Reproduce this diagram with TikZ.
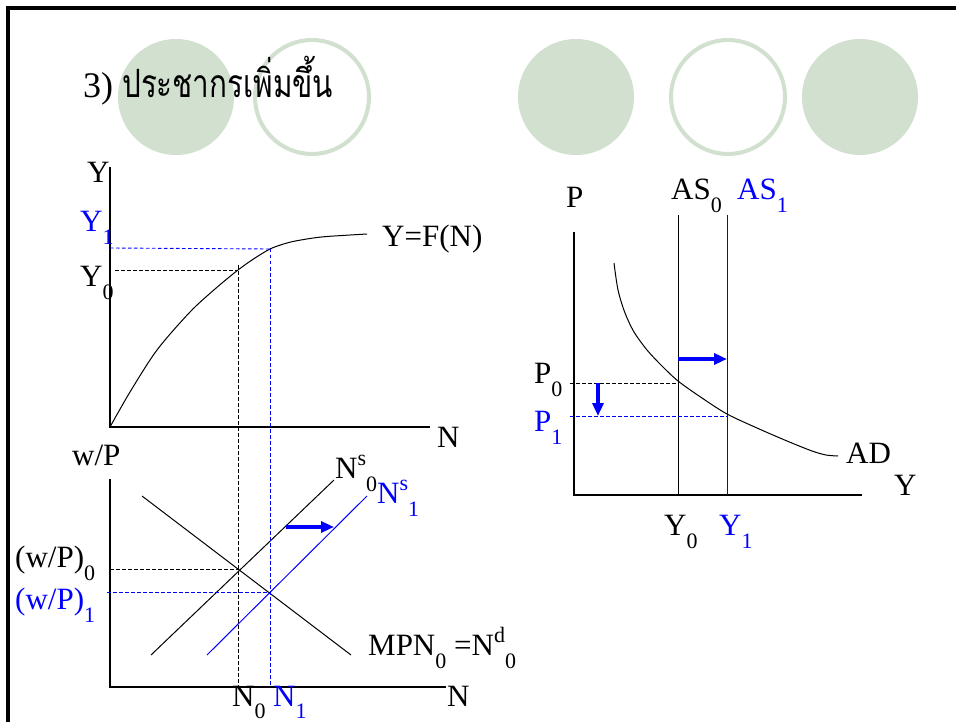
\documentclass[tikz,border=0pt]{standalone}
\usepackage{fontspec}
\setmainfont{Liberation Serif}
\newfontfamily\thaifont[Script=Thai]{Loma}
\usetikzlibrary{arrows.meta}
\definecolor{lgreen}{HTML}{D1E0CF}
\definecolor{pblue}{HTML}{0000FF}
\newcommand{\sbs}[1]{\raisebox{-13pt}{\fontsize{22}{22}\selectfont #1}}
\newcommand{\sps}[1]{\raisebox{13pt}{\fontsize{22}{22}\selectfont #1}}
\begin{document}
\begin{tikzpicture}[x=1pt,y=-1pt,
  lbl/.style={inner sep=0pt, anchor=base west, font=\fontsize{31}{31}\selectfont},
  bl/.style={text=pblue},
  axis/.style={line width=1.3pt},
  curve/.style={line width=1pt},
  dsh/.style={line width=0.9pt, dash pattern=on 3.5pt off 2.5pt},
  shiftarrow/.style={draw=pblue, line width=3.5pt, -{Triangle[length=13pt,width=11pt]}},
  disc/.style={circle, fill=lgreen, minimum size=116pt, inner sep=0pt},
  ringc/.style={circle, draw=lgreen, line width=4pt, minimum size=114pt, inner sep=0pt}]
\useasboundingbox (0,0) rectangle (956,722);
\fill[white] (0,0) rectangle (956,722);
% frame
\coordinate (fbl) at (8,730);
\coordinate (ftl) at (8,8);
\coordinate (ftr) at (962,8);
\draw[line width=3.2pt] (fbl) -- (ftl) -- (ftr);
% decorative circles
\node[disc]  (c1) at (176,97) {};
\node[ringc] (c2) at (312,97) {};
\node[disc]  (c3) at (576,97) {};
\node[ringc] (c4) at (728,97) {};
\node[disc]  (c5) at (860,97) {};
% title
\node[inner sep=0pt, anchor=base west, font=\fontsize{36}{36}\selectfont] (title) at (83,98)
  {3) {\thaifont\fontsize{39}{39}\selectfont\scalebox{0.76}[1]{ประชากรเพิ่มขึ้น}}};

% ---------- top-left: production function ----------
\coordinate (o1) at (110,427);
\coordinate (ytop) at (110,167);
\coordinate (nend1) at (430,427);
\draw[axis] (ytop) -- (o1) -- (nend1);
\draw[curve] plot[smooth] coordinates {(110,427) (130,392) (157,350) (190,312) (215,289) (238,270) (255,258) (270,249) (282,244.5) (293,241.5) (310,238.5) (327,236.5) (367,234)};
\coordinate (e0) at (238,270);
\coordinate (e1) at (270,249);
\coordinate (e0top) at (238,265);
\coordinate (y0ax) at (115,270);
\coordinate (y1ax) at (110,248);
\draw[dsh] (y0ax) -- (e0);
\draw[dsh, pblue] (y1ax) -- (e1);
\node[lbl] (lY) at (87,183) {Y};
\node[lbl, bl] (lY1) at (80,232) {Y\sbs{1}};
\node[lbl] (lY0) at (80,287) {Y\sbs{0}};
\node[lbl] (lYF) at (382,247) {Y=F(N)};
\node[lbl] (lN1) at (437,447) {N};

% ---------- bottom-left: labour market ----------
\coordinate (o2) at (110,687);
\coordinate (wtop) at (110,479);
\coordinate (nend2) at (446,687);
\draw[axis] (wtop) -- (o2) -- (nend2);
\coordinate (nda) at (142,496);
\coordinate (ndb) at (351,655);
\coordinate (ns0a) at (151,655);
\coordinate (ns0b) at (334,480);
\coordinate (ns1a) at (207,655);
\coordinate (ns1b) at (367,496);
\draw[curve] (nda) -- (ndb);
\draw[curve] (ns0a) -- (ns0b);
\draw[curve, pblue] (ns1a) -- (ns1b);
\coordinate (q0) at (238,569);
\coordinate (q1) at (270,592);
\coordinate (w0ax) at (110,569);
\coordinate (w1ax) at (107,592);
\coordinate (n0ax) at (238,687);
\coordinate (n1ax) at (270,687);
\draw[dsh] (w0ax) -- (q0);
\draw[dsh, pblue] (w1ax) -- (q1);
\draw[dsh] (e0top) -- (n0ax);
\draw[dsh, pblue] (e1) -- (n1ax);
\coordinate (sa1) at (286,527);
\coordinate (sa2) at (334,527);
\draw[shiftarrow] (sa1) -- (sa2);
\node[lbl] (lwP) at (72,465) {w/P};
\node[lbl] (lwP0) at (15,567) {(w/P)\sbs{0}};
\node[lbl, bl] (lwP1) at (15,609) {(w/P)\sbs{1}};
\node[lbl] (lNs0) at (335,478) {N\sps{s}\sbs{0}};
\node[lbl, bl] (lNs1) at (377,503) {N\sps{s}\sbs{1}};
\node[lbl] (lMPN) at (368,655) {MPN\sbs{0} =N\sps{d}\sbs{0}};
\node[lbl] (lN0) at (232,706) {N\raisebox{-12pt}{\fontsize{22}{22}\selectfont 0}};
\node[lbl, bl] (lN1b) at (273,706) {N\raisebox{-12pt}{\fontsize{22}{22}\selectfont 1}};
\node[lbl] (lN2) at (447,706) {N};

% ---------- right: AS-AD ----------
\coordinate (o3) at (574,495);
\coordinate (ptop) at (574,232);
\coordinate (yend) at (862,495);
\draw[axis] (ptop) -- (o3) -- (yend);
\coordinate (as0t) at (678,215);
\coordinate (as0b) at (678,495);
\coordinate (as1t) at (727,215);
\coordinate (as1b) at (727,495);
\draw[curve] (as0t) -- (as0b);
\draw[curve, pblue] (as1t) -- (as1b);
\draw[curve] plot[smooth] coordinates {(614,263) (618,290) (625,313) (634,332) (647,350) (661,365) (678,381) (702,398) (727,414) (757,428) (787,441) (812,451) (826,455) (838,456)};
\coordinate (r0) at (678,383);
\coordinate (r1) at (727,416);
\coordinate (p0ax) at (570,383);
\coordinate (p1ax) at (570,416);
\draw[dsh] (p0ax) -- (r0);
\draw[dsh, pblue] (p1ax) -- (r1);
\coordinate (ra1) at (678,359);
\coordinate (ra2) at (727,359);
\draw[shiftarrow] (ra1) -- (ra2);
\coordinate (da1) at (598,383);
\coordinate (da2) at (598,416);
\draw[shiftarrow] (da1) -- (da2);
\node[lbl] (lP) at (566,208) {P};
\node[lbl] (lAS0) at (671,200) {AS\sbs{0}};
\node[lbl, bl] (lAS1) at (737,200) {AS\sbs{1}};
\node[lbl] (lP0) at (534,383) {P\sbs{0}};
\node[lbl, bl] (lP1) at (534,431) {P\sbs{1}};
\node[lbl] (lAD) at (846,463) {AD};
\node[lbl] (lYax) at (894,495) {Y};
\node[lbl] (lYr0) at (664,535) {Y\sbs{0}};
\node[lbl, bl] (lYr1) at (719,535) {Y\sbs{1}};
\end{tikzpicture}
\end{document}
